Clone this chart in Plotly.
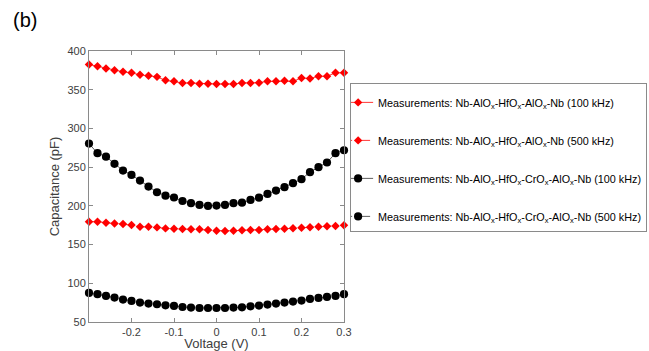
import plotly.graph_objects as go

voltage = [round(-0.30 + 0.02 * i, 2) for i in range(31)]

c_alhf_100k = [382.6, 380.4, 377.4, 375.2, 373.1, 371.8, 369.2, 367.9, 366.6, 362.1, 360.8,
               358.7, 358.7, 357.8, 357.8, 357.4, 357.4, 357.4, 358.7, 358.7, 359.1,
               360.8, 360.8, 361.7, 360.8, 365.2, 364.4, 367.4, 367.4, 371.8, 371.8]
c_alhf_500k = [179.5, 179.5, 178.2, 177.3, 176.5, 175.2, 173.0, 173.0, 172.2, 170.9, 170.5,
               170.1, 169.7, 169.7, 168.8, 167.9, 167.5, 167.9, 168.4, 168.8, 168.8,
               169.7, 170.1, 170.5, 171.0, 171.8, 172.3, 173.1, 173.6, 174.0, 174.9]
c_alhfcr_100k = [280.4, 268.0, 263.5, 254.3, 245.6, 240.0, 232.7, 224.9, 217.6, 213.2, 210.8,
                 206.3, 203.4, 201.2, 199.9, 200.3, 201.2, 203.4, 204.1, 207.6, 210.6,
                 215.4, 219.7, 224.1, 229.3, 234.5, 243.5, 250.0, 256.0, 268.1, 271.8]
c_alhfcr_500k = [87.6, 85.9, 83.7, 81.6, 79.0, 77.2, 75.1, 73.8, 72.9, 71.6, 70.7,
                 69.4, 68.6, 68.1, 68.1, 68.1, 68.1, 68.6, 69.0, 70.3, 71.2,
                 72.5, 73.8, 75.1, 76.4, 77.7, 79.8, 81.1, 82.4, 83.7, 85.9]

series_names = [
    "Measurements: Nb-AlO<sub>x</sub>-HfO<sub>x</sub>-AlO<sub>x</sub>-Nb (100 kHz)",
    "Measurements: Nb-AlO<sub>x</sub>-HfO<sub>x</sub>-AlO<sub>x</sub>-Nb (500 kHz)",
    "Measurements: Nb-AlO<sub>x</sub>-HfO<sub>x</sub>-CrO<sub>x</sub>-AlO<sub>x</sub>-Nb (100 kHz)",
    "Measurements: Nb-AlO<sub>x</sub>-HfO<sub>x</sub>-CrO<sub>x</sub>-AlO<sub>x</sub>-Nb (500 kHz)",
]

x_tickvals = [-0.2, -0.1, 0, 0.1, 0.2, 0.3]
x_ticktext = ["-0.2", "-0.1", "0", "0.1", "0.2", "0.3"]
y_tickvals = [50, 100, 150, 200, 250, 300, 350, 400]

series = [c_alhf_100k, c_alhf_500k, c_alhfcr_100k, c_alhfcr_500k]
colors = ["#ff0000", "#ff0000", "#000000", "#000000"]
line_colors = ["#ff0000", "#ff0000", "#333333", "#333333"]
symbols = ["diamond", "diamond", "circle", "circle"]
sizes = [6.5, 6.5, 8.2, 8.2]
dashes = ["solid", "dashdot", "solid", "dashdot"]

FONT = "Liberation Sans, Arial, sans-serif"

fig = go.Figure()
for i, ys in enumerate(series):
    fig.add_trace(go.Scatter(
        x=voltage, y=ys, mode="lines+markers", name=series_names[i],
        legendgroup="g%d" % i,
        line=dict(color=line_colors[i], width=0.8, dash=dashes[i]),
        marker=dict(symbol=symbols[i], size=sizes[i], color=colors[i],
                    line=dict(width=0)),
        cliponaxis=False,
    ))

axis_common = dict(
    showgrid=False, zeroline=False, showline=True, linecolor="#8a8a8a", linewidth=1,
    mirror="ticks", ticks="inside", ticklen=4, tickcolor="#8a8a8a",
    tickfont=dict(family=FONT, size=11, color="#404040"),
)

fig.update_xaxes(range=[-0.3, 0.3], tickvals=x_tickvals, ticktext=x_ticktext,
                 title=dict(text="Voltage (V)", standoff=3,
                            font=dict(family=FONT, size=13, color="#404040")),
                 **axis_common)
fig.update_yaxes(range=[50, 400], tickvals=y_tickvals,
                 title=dict(text="Capacitance (pF)", standoff=4,
                            font=dict(family=FONT, size=13, color="#404040")),
                 **axis_common)

fig.add_annotation(text="(b)", xref="paper", yref="paper", x=-0.305, y=1.115,
                   xanchor="left", yanchor="middle", showarrow=False,
                   font=dict(family=FONT, size=20, color="#000000"))

fig.update_layout(
    width=649, height=351,
    margin=dict(l=89, r=305, t=51, b=29, autoexpand=False),
    paper_bgcolor="white", plot_bgcolor="white",
    showlegend=True,
    legend=dict(x=1.024, y=0.882, xanchor="left", yanchor="top",
                bordercolor="#8a8a8a", borderwidth=1, bgcolor="white",
                font=dict(family=FONT, size=10.8, color="#000000"),
                title=dict(text="&nbsp;", font=dict(size=3)),
                itemwidth=30, tracegroupgap=19, indentation=-13),
)

fig.write_html("out.html", config={"displayModeBar": False},
               post_script="document.body.style.margin='0px';")
